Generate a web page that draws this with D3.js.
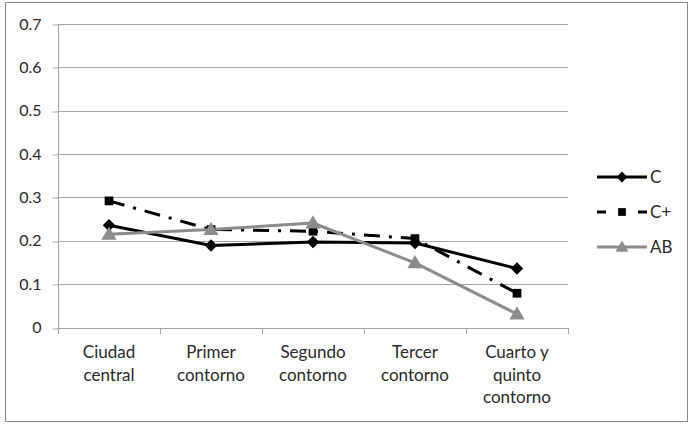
<!DOCTYPE html>
<html>
<head>
<meta charset="utf-8">
<script src="https://cdn.jsdelivr.net/npm/d3@7"></script>
<style>
  body { margin: 0; background: #fff; }
  text { font-family: Lato, "Open Sans", sans-serif; fill: #2b2b2b; }
</style>
</head>
<body>
<div id="chart"></div>
<script>
// Data
var categories = [["Ciudad", "central"], ["Primer", "contorno"], ["Segundo", "contorno"],
  ["Tercer", "contorno"], ["Cuarto y", "quinto", "contorno"]];
var seriesNames = ["C", "C+", "AB"];
var valuesC = [0.236, 0.189, 0.197, 0.195, 0.136];
var valuesCplus = [0.292, 0.226, 0.222, 0.205, 0.079];
var valuesAB = [0.215, 0.226, 0.241, 0.149, 0.031];
var yTicks = [0, 0.1, 0.2, 0.3, 0.4, 0.5, 0.6, 0.7];

var svgWidth = 692;
var svgHeight = 424;

var plot = { left: 58, right: 568, top: 24, bottom: 327.5 };

var svg = d3.select("#chart")
  .append("svg")
  .attr("width", svgWidth)
  .attr("height", svgHeight);

// outer frame
svg.append("rect")
  .attr("x", 5.5).attr("y", 2.5)
  .attr("width", 682).attr("height", 419)
  .attr("fill", "none")
  .attr("stroke", "#8a8a8a")
  .attr("stroke-width", 1);

var xBand = d3.scaleBand()
  .domain(d3.range(categories.length))
  .range([plot.left, plot.right]);

var xScale = function(i) { return xBand(i) + xBand.bandwidth() / 2; };

var yScale = d3.scaleLinear()
  .domain([0, 0.7])
  .range([plot.bottom, plot.top]);

// gridlines
svg.append("g")
  .selectAll("line")
  .data(yTicks.filter(d => d > 0))
  .enter()
  .append("line")
  .attr("x1", plot.left).attr("x2", plot.right)
  .attr("y1", d => Math.round(yScale(d)) + 0.5)
  .attr("y2", d => Math.round(yScale(d)) + 0.5)
  .attr("stroke", "#a6a6a6");

// y axis
var leftAxis = d3.axisLeft(yScale)
  .tickValues(yTicks)
  .tickSize(6)
  .tickPadding(11)
  .tickFormat(d => d === 0 ? "0" : d3.format(".1f")(d));

var yAxis = svg.append("g")
  .attr("transform", `translate(${plot.left + 0.5}, 0)`)
  .call(leftAxis);

yAxis.select(".domain").remove();
yAxis.selectAll(".tick line")
  .attr("stroke", "#a6a6a6")
  .attr("transform", d => `translate(0, ${Math.round(yScale(d)) + 0.5 - yScale(d)})`);
yAxis.selectAll("text")
  .attr("fill", "#2b2b2b")
  .style("font-size", "16px")
  .style("font-family", "Lato, 'Open Sans', sans-serif");

yAxis.append("line")
  .attr("x1", 0).attr("x2", 0)
  .attr("y1", plot.top).attr("y2", plot.bottom + 0.5)
  .attr("stroke", "#a6a6a6");

// x axis, ticks sit on category boundaries
var xAxisG = svg.append("g");
xAxisG.append("line")
  .attr("x1", plot.left).attr("x2", plot.right + 0.5)
  .attr("y1", Math.round(plot.bottom) + 0.5).attr("y2", Math.round(plot.bottom) + 0.5)
  .attr("stroke", "#a6a6a6");

var bounds = d3.range(categories.length).map(i => xBand(i)).concat([plot.right]);
xAxisG.selectAll(".xtick")
  .data(bounds)
  .enter()
  .append("line")
  .attr("class", "xtick")
  .attr("x1", d => Math.round(d) + 0.5).attr("x2", d => Math.round(d) + 0.5)
  .attr("y1", Math.round(plot.bottom)).attr("y2", Math.round(plot.bottom) + 6)
  .attr("stroke", "#a6a6a6");

var catLabels = xAxisG.selectAll(".cat")
  .data(categories)
  .enter()
  .append("text")
  .attr("class", "cat")
  .attr("text-anchor", "middle")
  .attr("x", (d, i) => xScale(i))
  .attr("y", 358)
  .style("font-size", "17px");

catLabels.selectAll("tspan")
  .data(d => d)
  .enter()
  .append("tspan")
  .attr("x", function() { return d3.select(this.parentNode).attr("x"); })
  .attr("dy", (d, i) => i === 0 ? 0 : 22.5)
  .text(d => d);

// series setup
var series = [
  { name: seriesNames[0], values: valuesC, color: "#000", dash: null, marker: "diamond" },
  { name: seriesNames[1], values: valuesCplus, color: "#000", dash: "16,9,3,9", marker: "square" },
  { name: seriesNames[2], values: valuesAB, color: "#8c8c8c", dash: null, marker: "triangle" }
];

var symbolFor = {
  diamond: d3.symbol().type(d3.symbolDiamond2).size(100),
  square: d3.symbol().type(d3.symbolSquare).size(76),
  triangle: d3.symbol().type(d3.symbolTriangle).size(100)
};

var line = d3.line()
  .x((d, i) => xScale(i))
  .y(d => yScale(d));

// lines first, then markers so the markers sit on top
series.forEach(function(s) {
  svg.append("path")
    .datum(s.values)
    .attr("d", line)
    .attr("fill", "none")
    .attr("stroke", s.color)
    .attr("stroke-width", 3)
    .attr("stroke-dasharray", s.dash)
    .attr("stroke-linejoin", "round");
});

series.forEach(function(s) {
  svg.append("g")
    .selectAll("path")
    .data(s.values)
    .enter()
    .append("path")
    .attr("d", symbolFor[s.marker])
    .attr("transform", (d, i) => `translate(${xScale(i)}, ${yScale(d) + (s.marker === "triangle" ? 1 : 0)})`)
    .attr("fill", s.color);
});

// legend
var legend = svg.append("g")
  .attr("transform", "translate(597, 177)");

var legendItems = legend.selectAll("g")
  .data(series)
  .enter()
  .append("g")
  .attr("transform", (d, i) => `translate(0, ${i * 35})`);

legendItems.append("line")
  .attr("x1", 0).attr("x2", 50)
  .attr("y1", 0).attr("y2", 0)
  .attr("stroke", d => d.color)
  .attr("stroke-width", 3)
  .attr("stroke-dasharray", d => d.dash ? "9,32,9" : null);

legendItems.append("path")
  .attr("d", d => symbolFor[d.marker].size(d.marker === "square" ? 60 : 75)())
  .attr("transform", d => `translate(25, ${d.marker === "triangle" ? 1 : 0})`)
  .attr("fill", d => d.color);

legendItems.append("text")
  .attr("x", 53)
  .attr("y", 0)
  .attr("dy", "0.36em")
  .style("font-size", "17px")
  .text(d => d.name);
</script>
</body>
</html>
